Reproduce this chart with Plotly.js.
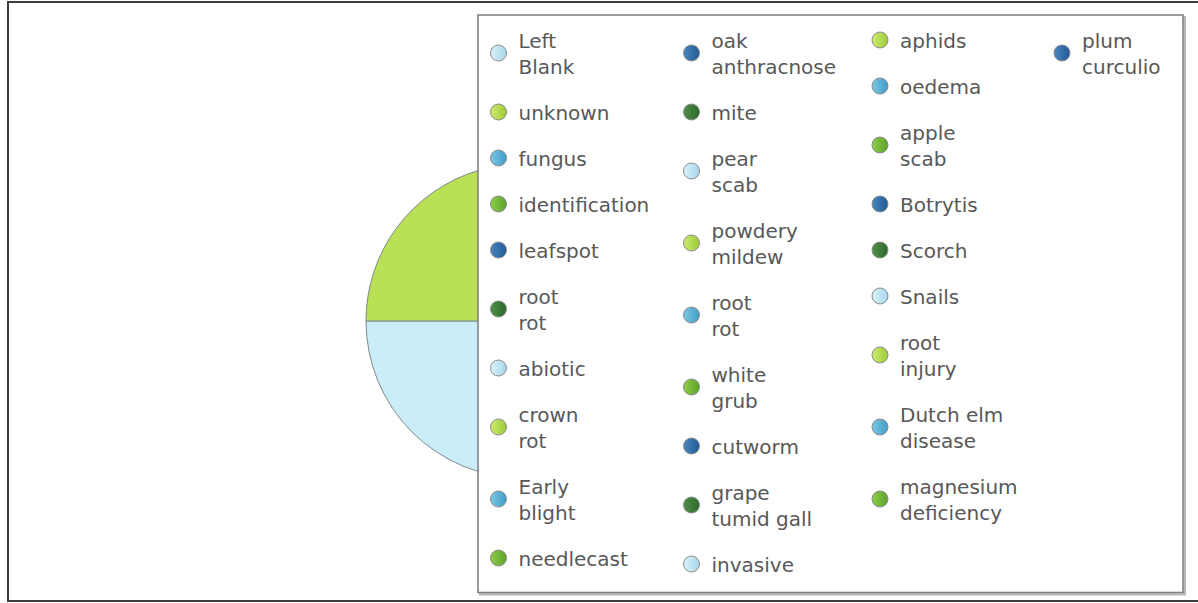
<!DOCTYPE html>
<html>
<head>
<meta charset="utf-8">
<script src="https://cdn.plot.ly/plotly-3.0.1.min.js"></script>
<style>html,body{margin:0;padding:0;background:#fff;}#chart{width:1198px;height:603px;}</style>
</head>
<body>
<div id="chart"></div>
<script>
// ---- data ----
const categories = [
  "Left Blank","unknown","fungus","identification","leafspot","root rot","abiotic","crown rot","Early blight","needlecast",
  "oak anthracnose","mite","pear scab","powdery mildew","root rot","white grub","cutworm","grape tumid gall","invasive",
  "aphids","oedema","apple scab","Botrytis","Scorch","Snails","root injury","Dutch elm disease","magnesium deficiency",
  "plum curculio"
];
const legendLabels = [
  "Left<br>Blank","unknown","fungus","identification","leafspot","root<br>rot","abiotic","crown<br>rot","Early<br>blight","needlecast",
  "oak<br>anthracnose","mite","pear<br>scab","powdery<br>mildew","root<br>rot","white<br>grub","cutworm","grape<br>tumid gall","invasive",
  "aphids","oedema","apple<br>scab","Botrytis","Scorch","Snails","root<br>injury","Dutch elm<br>disease","magnesium<br>deficiency",
  "plum<br>curculio"
];
const values = [
  480,196,40,30,25,20,18,15,14,12,
  11,10,9,9,8,8,7,6,6,
  5,5,5,4,4,3,3,3,2,
  2
];
// legend column breaks (index where each new column starts)
const columnStarts = [0,10,19,28];

// ---- styles ----
const sliceColors = ["#cbedf9","#bae056","#5fb6da","#74ba35","#2f6eaa","#3d7d37"];
const markerLight = ["#daf2fb","#cdea6e","#7cc7e5","#8fcd4a","#4a86bf","#4f9148"];
const markerDark  = ["#a6d6ea","#9ccb38","#3f9cc6","#5aa22a","#1f5a94","#2b6829"];

const W = 1198, H = 603;
const px = v => v / W;
const py = v => 1 - v / H;

const pieCx = 523, pieCy = 321, pieR = 157;

const traces = [{
  type: "pie",
  labels: categories.map((c, i) => i),
  text: categories,
  values: values,
  sort: false,
  direction: "clockwise",
  rotation: 90,
  textinfo: "none",
  hovertemplate: "%{text}: %{value}<extra></extra>",
  marker: {colors: categories.map((c, i) => sliceColors[i % 6]), line: {color: "#7f8a8e", width: 1}},
  showlegend: false,
  domain: {x: [px(pieCx - pieR), px(pieCx + pieR)], y: [(H - pieCy - pieR) / H, (H - pieCy + pieR) / H]}
}];

const legendIds = ["legend", "legend2", "legend3", "legend4"];
categories.forEach((c, i) => {
  let col = 0;
  for (let k = 0; k < columnStarts.length; k++) if (i >= columnStarts[k]) col = k;
  traces.push({
    type: "scatter",
    mode: "markers",
    x: [null], y: [null],
    name: legendLabels[i],
    legend: legendIds[col],
    legendgroup: "g" + i,
    showlegend: true,
    hoverinfo: "skip",
    marker: {
      size: 16,
      color: markerLight[i % 6],
      gradient: {type: "horizontal", color: markerDark[i % 6]},
      line: {color: "#8c8c8c", width: 1}
    }
  });
});

const legendX = [478.5, 671.5, 860, 1042];
const legendTop = 20.5;
const legendFont = {family: "DejaVu Sans, Verdana, sans-serif", size: 20, color: "#585858"};

const layout = {
  width: W, height: H,
  margin: {l: 0, r: 0, t: 0, b: 0, pad: 0},
  paper_bgcolor: "#ffffff",
  plot_bgcolor: "#ffffff",
  showlegend: true,
  xaxis: {visible: false, fixedrange: true},
  yaxis: {visible: false, fixedrange: true},
  shapes: [
    {type: "rect", xref: "paper", yref: "paper", layer: "above",
     x0: px(8), x1: 1.02, y0: py(601), y1: py(2),
     line: {color: "#3c3c3c", width: 2}, fillcolor: "rgba(0,0,0,0)"},
    {type: "rect", xref: "paper", yref: "paper", layer: "above",
     x0: px(480), x1: px(1185), y0: py(594.5), y1: py(17),
     line: {color: "#b8b8b8", width: 2}, fillcolor: "#d8d8d8"},
    {type: "rect", xref: "paper", yref: "paper", layer: "above",
     x0: px(478), x1: px(1183), y0: py(592.5), y1: py(15),
     line: {color: "#7c7c7c", width: 1.5}, fillcolor: "#ffffff"}
  ]
};
legendIds.forEach((id, k) => {
  layout[id] = {
    x: px(legendX[k]), xanchor: "left", xref: "paper",
    y: py(legendTop), yanchor: "top", yref: "paper",
    orientation: "v",
    bgcolor: "rgba(0,0,0,0)",
    borderwidth: 0,
    tracegroupgap: 17,
    font: legendFont,
    itemclick: false, itemdoubleclick: false
  };
});

Plotly.newPlot("chart", traces, layout, {displayModeBar: false, staticPlot: true});
</script>
</body>
</html>
